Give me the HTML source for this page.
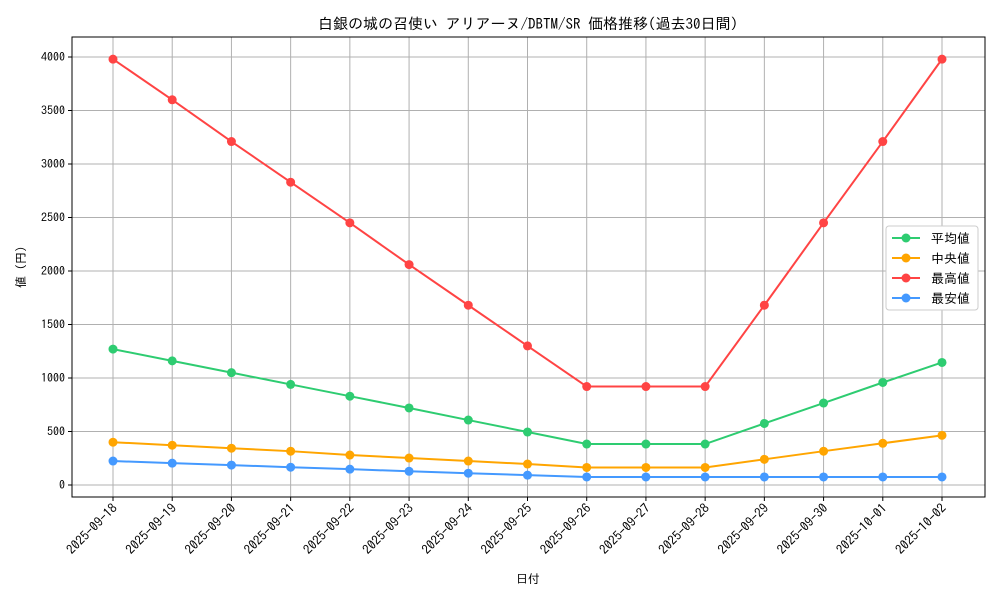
<!DOCTYPE html>
<html><head><meta charset="utf-8"><style>
body{margin:0;background:#fff}
svg{font-family:"IPAGothic","Liberation Sans","Noto Sans CJK JP",sans-serif}
</style></head><body>
<svg id="chart" width="1000" height="600"></svg>
<script>
const categories=["2025-09-18","2025-09-19","2025-09-20","2025-09-21","2025-09-22","2025-09-23","2025-09-24","2025-09-25","2025-09-26","2025-09-27","2025-09-28","2025-09-29","2025-09-30","2025-10-01","2025-10-02"];
const avgValues=[1270,1160,1050,940,830,720,607,495,383,383,383,575,766,958,1145];
const medValues=[400,372,344,316,280,252,224,196,164,164,164,240,316,390,464];
const maxValues=[3980,3600,3210,2830,2450,2060,1680,1300,920,920,920,1680,2450,3210,3980];
const minValues=[224,204,186,166,148,128,110,92,75,75,75,75,75,75,75];
const yTicks=[0,500,1000,1500,2000,2500,3000,3500,4000];
const seriesNames=["平均値","中央値","最高値","最安値"];
const seriesColors=["#2ecc71","#ffa500","#ff4444","#4499ff"];
const NS="http://www.w3.org/2000/svg";
const svg=document.getElementById('chart');
const L=72,R=985,T=37,B=497;
const x=i=>113+i*(942-113)/(categories.length-1);
const y=v=>485-v*(485-57)/4000;
function el(t,a,p){const e=document.createElementNS(NS,t);for(const k in a)e.setAttribute(k,a[k]);(p||svg).appendChild(e);return e;}
categories.forEach((c,i)=>{
 const g=el('line',{x1:x(i),x2:x(i),y1:T,y2:B,stroke:'#b0b0b0','stroke-width':1});
 
 
 el('line',{x1:x(i),x2:x(i),y1:B,y2:B+4,stroke:'#000'});
 const t=el('text',{x:x(i)+5,y:B+12,'font-size':13,'text-anchor':'end',transform:`rotate(-45 ${x(i)+5} ${B+12})`});
 t.textContent=c;
 
 
});
yTicks.forEach(v=>{
 const g=el('line',{x1:L,x2:R,y1:y(v),y2:y(v),stroke:'#b0b0b0','stroke-width':1});
 
 
 el('line',{x1:L-4,x2:L,y1:y(v),y2:y(v),stroke:'#000'});
 const t=el('text',{x:L-7,y:y(v)+4,'font-size':12,'text-anchor':'end'});
 t.textContent=v;
 
 
});
const frame=el('rect',{x:L,y:T,width:R-L,height:B-T,fill:'none',stroke:'#000'});


[avgValues,medValues,maxValues,minValues].forEach((vals,s)=>{
 const p=el('polyline',{points:vals.map((v,i)=>x(i)+','+y(v)).join(' '),fill:'none',stroke:seriesColors[s],'stroke-width':2});
 
 
 vals.forEach((v,i)=>{
  const c=el('circle',{cx:x(i),cy:y(v),r:4.5,fill:seriesColors[s]});
  
  
 });
});
const lg=el('g',{});


el('rect',{x:886,y:226,width:92,height:84,fill:'#fff',stroke:'#ccc',rx:3},lg);
seriesNames.forEach((n,s)=>{
 const yy=238+s*20;
 el('line',{x1:892,x2:920,y1:yy,y2:yy,stroke:seriesColors[s],'stroke-width':2},lg);
 el('circle',{cx:906,cy:yy,r:4.5,fill:seriesColors[s]},lg);
 const t=el('text',{x:931,y:yy+5,'font-size':13},lg);
 t.textContent=n;
 
 
});
const title=el('text',{x:528,y:29,'font-size':15,'text-anchor':'middle'});
title.textContent="白銀の城の召使い アリアーヌ/DBTM/SR 価格推移(過去30日間)";


const xt=el('text',{x:528,y:583,'font-size':12,'text-anchor':'middle'});
xt.textContent="日付";


const yt=el('text',{x:25,y:267,'font-size':12,'text-anchor':'middle',transform:'rotate(-90 25 267)'});
yt.textContent="値 (円)";


</script>
</body></html>
